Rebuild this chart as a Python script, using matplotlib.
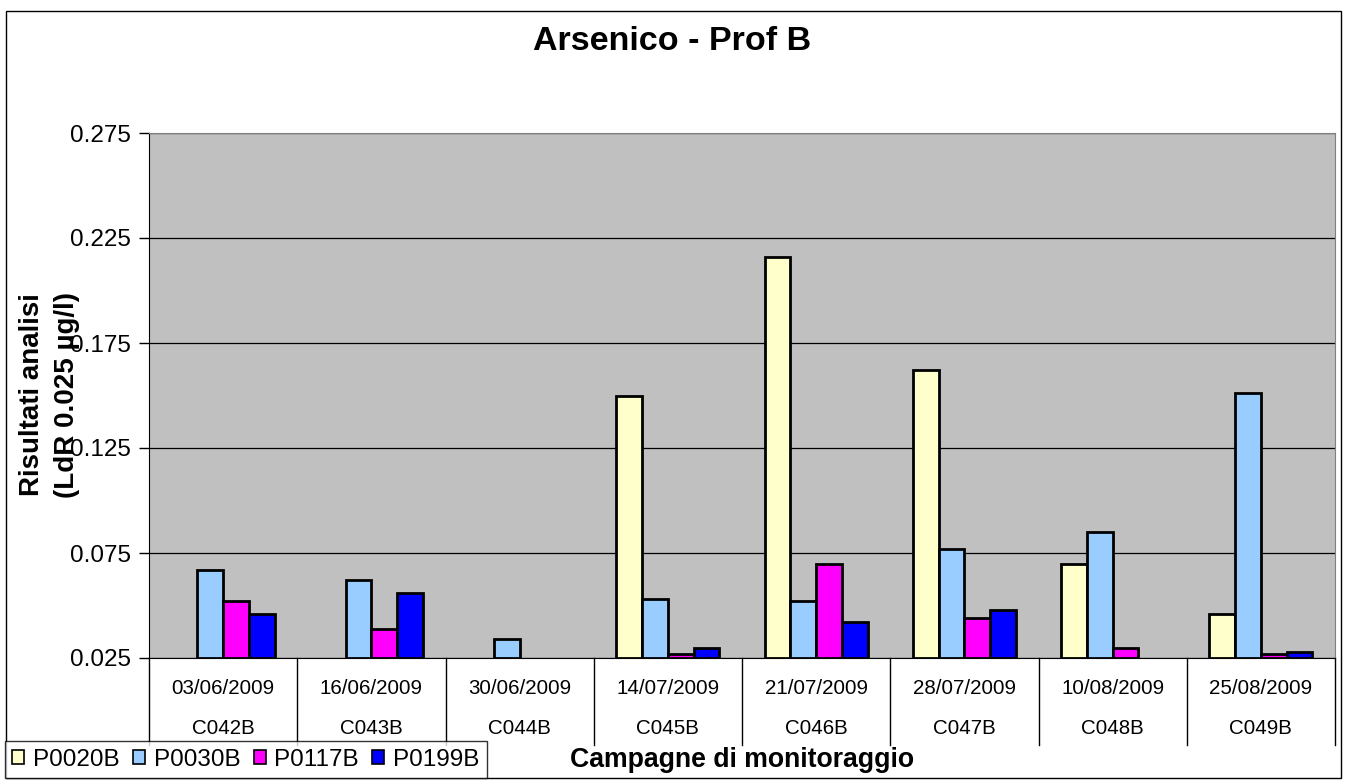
import numpy as np
import matplotlib
matplotlib.use("Agg")
from matplotlib import pyplot as plt
from matplotlib.patches import Rectangle, Patch
from matplotlib.transforms import blended_transform_factory

plt.rcParams['font.family'] = ['Liberation Sans', 'DejaVu Sans']

# dati
date = ["03/06/2009", "16/06/2009", "30/06/2009", "14/07/2009",
        "21/07/2009", "28/07/2009", "10/08/2009", "25/08/2009"]
campagne = ["C042B", "C043B", "C044B", "C045B", "C046B", "C047B", "C048B", "C049B"]
serie = ["P0020B", "P0030B", "P0117B", "P0199B"]
nan = np.nan
p0020b = [nan, nan, nan, 0.150, 0.216, 0.162, 0.070, 0.046]
p0030b = [0.067, 0.062, 0.034, 0.053, 0.052, 0.077, 0.085, 0.151]
p0117b = [0.052, 0.039, nan, 0.027, 0.070, 0.044, 0.030, 0.027]
p0199b = [0.046, 0.056, nan, 0.030, 0.042, 0.048, nan, 0.028]
valori = [p0020b, p0030b, p0117b, p0199b]
colori = ["#FFFFCC", "#99CCFF", "#FF00FF", "#0000FF"]
yticks = [0.025, 0.075, 0.125, 0.175, 0.225, 0.275]

W, H = 1345, 783
fig = plt.figure(figsize=(W / 100, H / 100), dpi=100)

# bordo esterno
fig.patches.append(Rectangle((6 / W, 5 / H), 1335 / W, 767 / H, transform=fig.transFigure,
                             fill=False, edgecolor="black", linewidth=1.0))

ax = fig.add_axes([149 / W, 1 - 658 / H, 1186 / W, 525 / H])
ax.set_facecolor("#C0C0C0")

ymin, ymax = yticks[0], yticks[-1]
x = np.arange(len(date))
w = 0.174
for i, (v, c) in enumerate(zip(valori, colori)):
    v = np.array(v)
    ok = ~np.isnan(v)
    ax.bar(x[ok] + (i - 1.5) * w, v[ok] - ymin, bottom=ymin, width=w,
           color=c, edgecolor="black", linewidth=2.0, zorder=3)

ax.set_xlim(-0.5, len(date) - 0.5)
ax.set_ylim(ymin, ymax)
ax.set_yticks(yticks)
ax.set_yticklabels(["%.3f" % t for t in yticks], fontsize=17.5)
ax.tick_params(axis="y", length=7, width=1, pad=6, color="black")
ax.set_xticks([])
ax.yaxis.grid(True, color="black", linewidth=0.9)
ax.set_axisbelow(True)
for s in ["top", "right"]:
    ax.spines[s].set_color("#808080")
ax.spines["left"].set_color("black")
ax.spines["bottom"].set_color("black")

# tabella delle categorie sotto l'asse
tr = blended_transform_factory(ax.transData, ax.transAxes)
for b in np.arange(-0.5, len(date), 1.0):
    ax.plot([b, b], [0, -87 / 525], transform=tr, color="black", linewidth=1.0, clip_on=False)
for xi, d, cc in zip(x, date, campagne):
    ax.text(xi, -30 / 525, d, transform=tr, ha="center", va="center", fontsize=14.8)
    ax.text(xi, -70 / 525, cc, transform=tr, ha="center", va="center", fontsize=14.8)

fig.text(0.5, 1 - 41 / H, "Arsenico - Prof B", ha="center", va="center",
         fontsize=24.5, fontweight="bold")
fig.text(742 / W, 1 - 760 / H, "Campagne di monitoraggio", ha="center", va="center",
         fontsize=19.2, fontweight="bold")
fig.text(50 / W, 1 - 395 / H, "Risultati analisi\n(LdR 0.025 µg/l)", ha="center", va="center",
         rotation=90, fontsize=20, fontweight="bold", multialignment="center",
         linespacing=1.45)

handles = [Patch(facecolor=c, edgecolor="black", linewidth=1.2) for c in colori]
leg = fig.legend(handles, serie, loc="lower left", bbox_to_anchor=(5 / W, 5 / H),
                 bbox_transform=fig.transFigure, ncol=4, fontsize=17.5, frameon=True,
                 fancybox=False, borderpad=0.3, handlelength=0.5, handleheight=0.5,
                 handletextpad=0.35, columnspacing=0.55, borderaxespad=0)
leg.get_frame().set_edgecolor("black")
leg.get_frame().set_linewidth(1.0)

fig.savefig("out.png", dpi=100)
